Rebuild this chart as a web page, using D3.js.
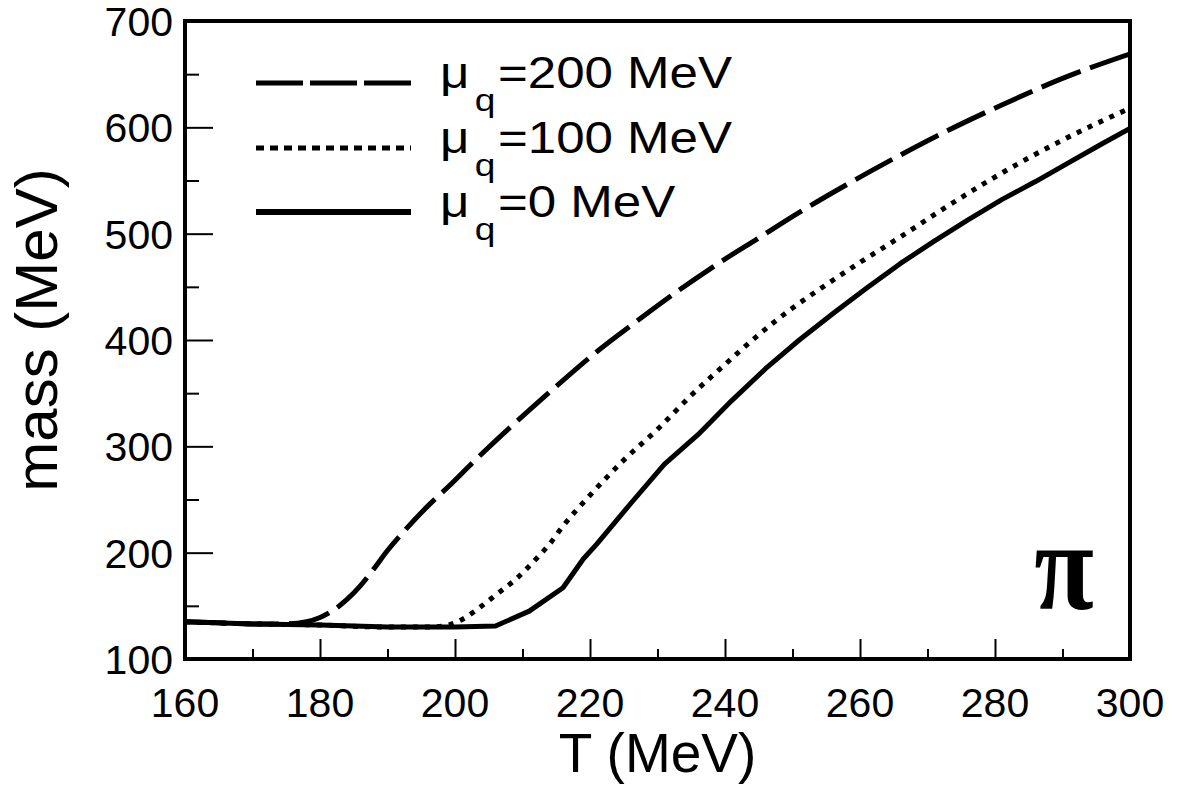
<!DOCTYPE html>
<html>
<head>
<meta charset="utf-8">
<script src="https://cdn.jsdelivr.net/npm/d3@7"></script>
<style>
  body { margin: 0; background: #fff; }
  svg text { font-family: "Liberation Sans", Arial, sans-serif; fill: #000; }
</style>
</head>
<body>
<svg id="chart" width="1182" height="800"></svg>
<script>
// data (T in MeV, pion mass in MeV)
const tempMu0 = [160, 170, 180, 190, 200, 206, 211, 216, 219, 221, 226, 231, 236, 241, 246, 251, 256, 261, 266, 271, 276, 281, 286, 291, 296, 300];
const massMu0 = [135, 133, 132, 130, 130, 131, 145, 167, 194, 208, 246, 283, 311, 343, 373, 400, 425, 449, 472, 493, 513, 532, 549, 567, 585, 599];

const tempMu100 = [160, 170, 180, 190, 196, 199, 201, 204, 206, 209, 212, 214, 216, 220, 225, 230, 235, 240, 245, 250, 255, 260, 266, 273, 281, 290, 300];
const massMu100 = [135, 133, 132, 130, 130, 132, 137, 150, 160, 175, 194, 208, 225, 254, 287, 316, 348, 377, 405, 430, 452, 473, 497, 526, 557, 588, 618];

const tempMu200 = [160, 165, 170, 175, 178, 180, 182, 184, 186, 188, 190, 193, 196, 199, 203, 207, 211, 216, 221, 227, 233, 239, 245, 251, 258, 266, 273, 281, 290, 300];
const massMu200 = [135, 134, 133, 133, 135, 139, 146, 156, 169, 185, 202, 224, 244, 262, 287, 311, 334, 362, 389, 418, 446, 472, 496, 520, 546, 574, 597, 621, 646, 669];

const xTicks = [160, 180, 200, 220, 240, 260, 280, 300];
const xMinor = [170, 190, 210, 230, 250, 270, 290];
const yTicks = [100, 200, 300, 400, 500, 600, 700];
const yMinor = [150, 250, 350, 450, 550, 650];

const legendLabels = ["=200 MeV", "=100 MeV", "=0 MeV"];

const series = [
  { t: tempMu200, m: massMu200, dash: "42,10", legendDash: "47,7", curve: d3.curveMonotoneX },
  { t: tempMu100, m: massMu100, dash: "5,7", legendDash: "8,6", curve: d3.curveMonotoneX },
  { t: tempMu0, m: massMu0, dash: null, legendDash: null, curve: d3.curveLinear }
];

const svg = d3.select("#chart");
const pLeft = 185, pRight = 1130, pTop = 21, pBottom = 659;

const x = d3.scaleLinear().domain([160, 300]).range([pLeft, pRight]);
const y = d3.scaleLinear().domain([100, 700]).range([pBottom, pTop]);

svg.append("defs").append("clipPath").attr("id", "plotclip")
  .append("rect")
  .attr("x", pLeft).attr("y", pTop)
  .attr("width", pRight - pLeft).attr("height", pBottom - pTop);

// curves
svg.append("g").attr("clip-path", "url(#plotclip)")
  .selectAll("path")
  .data(series)
  .enter()
  .append("path")
  .attr("d", s => d3.line()
    .x(d => x(d[0]))
    .y(d => y(d[1]))
    .curve(s.curve)(s.t.map((t, i) => [t, s.m[i]])))
  .attr("fill", "none")
  .attr("stroke", "#000")
  .attr("stroke-width", 5)
  .attr("stroke-linejoin", "round")
  .attr("stroke-dasharray", s => s.dash);

// ticks (inside)
const xAxis = d3.axisTop(x).tickValues(xTicks).tickSize(20).tickFormat("");
const xAxisMinor = d3.axisTop(x).tickValues(xMinor).tickSize(10).tickFormat("");
const yAxis = d3.axisRight(y).tickValues(yTicks).tickSize(28).tickFormat("");
const yAxisMinor = d3.axisRight(y).tickValues(yMinor).tickSize(14).tickFormat("");

[[xAxis, "translate(0," + pBottom + ")"], [xAxisMinor, "translate(0," + pBottom + ")"],
 [yAxis, "translate(" + pLeft + ",0)"], [yAxisMinor, "translate(" + pLeft + ",0)"]]
  .forEach(a => {
    const g = svg.append("g").attr("transform", a[1]).call(a[0]);
    g.select(".domain").remove();
    g.selectAll("line").attr("stroke", "#000").attr("stroke-width", 2);
  });

// frame
svg.append("rect")
  .attr("x", pLeft).attr("y", pTop)
  .attr("width", pRight - pLeft).attr("height", pBottom - pTop)
  .attr("fill", "none")
  .attr("stroke", "#000")
  .attr("stroke-width", 4);

// tick labels
svg.append("g").selectAll("text")
  .data(xTicks)
  .enter()
  .append("text")
  .attr("x", d => x(d))
  .attr("y", 717)
  .attr("text-anchor", "middle")
  .style("font-size", "41px")
  .text(d => d);

svg.append("g").selectAll("text")
  .data(yTicks)
  .enter()
  .append("text")
  .attr("x", 173)
  .attr("y", d => y(d) + 15)
  .attr("text-anchor", "end")
  .style("font-size", "41px")
  .text(d => d);

// axis titles
svg.append("text")
  .attr("x", (pLeft + pRight) / 2)
  .attr("y", 772)
  .attr("text-anchor", "middle")
  .style("font-size", "55px")
  .text("T (MeV)");

svg.append("text")
  .attr("transform", "translate(57,330) rotate(-90)")
  .attr("text-anchor", "middle")
  .style("font-size", "60px")
  .text("mass (MeV)");

// legend
const legendY = [83, 148, 212];
const lg = svg.append("g");
lg.selectAll("line")
  .data(series)
  .enter()
  .append("line")
  .attr("x1", 256).attr("x2", 411)
  .attr("y1", (d, i) => legendY[i]).attr("y2", (d, i) => legendY[i])
  .attr("stroke", "#000")
  .attr("stroke-width", (d, i) => i === 2 ? 6 : 5)
  .attr("stroke-dasharray", d => d.legendDash);

const lt = lg.selectAll("g.entry")
  .data(legendLabels)
  .enter()
  .append("g")
  .attr("class", "entry")
  .attr("transform", (d, i) => "translate(440," + (legendY[i] + 5) + ") scale(1.16,1)");

lt.append("text")
  .attr("x", 0).attr("y", 0)
  .style("font-size", "44px")
  .text("\u03bc");
lt.append("text")
  .attr("x", 30).attr("y", 23)
  .style("font-size", "32px")
  .text("q");
lt.append("text")
  .attr("x", 50).attr("y", 0)
  .style("font-size", "44px")
  .text(d => d);

// particle label
svg.append("text")
  .attr("transform", "translate(1064,609) scale(0.85,1)")
  .attr("text-anchor", "middle")
  .style("font-family", "'Liberation Serif', 'DejaVu Serif', serif")
  .style("font-weight", "bold")
  .style("font-size", "128px")
  .text("\u03c0");
</script>
</body>
</html>
